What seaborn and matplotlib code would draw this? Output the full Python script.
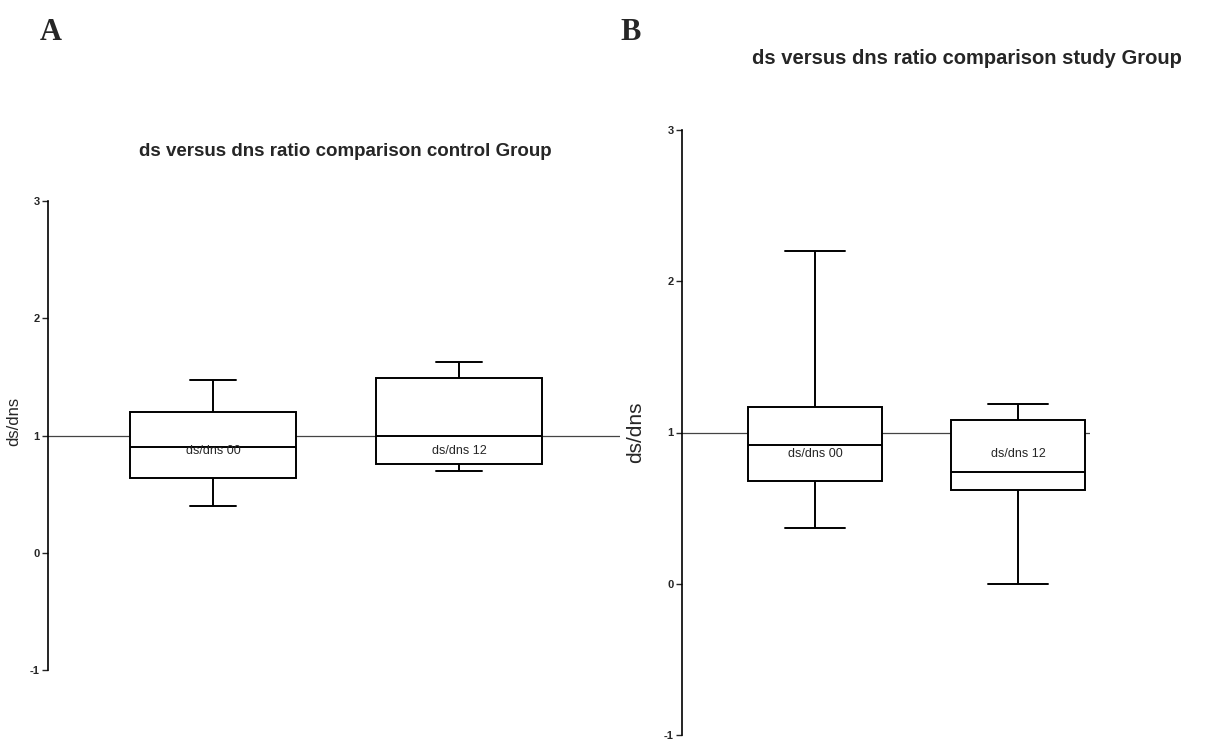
import matplotlib
matplotlib.use("Agg")
import matplotlib.pyplot as plt
import seaborn as sns
import pandas as pd
import numpy as np

# ---- data (five-number summaries: min, q1, median, q3, max)
groups = ["ds/dns 00", "ds/dns 12"]
control_00 = [0.40, 0.64, 0.90, 1.20, 1.47]
control_12 = [0.70, 0.76, 1.00, 1.49, 1.63]
study_00 = [0.37, 0.68, 0.92, 1.17, 2.20]
study_12 = [0.00, 0.62, 0.74, 1.08, 1.19]
yticks = [-1, 0, 1, 2, 3]
title_a = "ds versus dns ratio comparison control Group"
title_b = "ds versus dns ratio comparison study Group"
ylabel = "ds/dns"

sns.set_style("white")
plt.rcParams['font.family'] = ['Liberation Sans Narrow', 'Liberation Sans', 'DejaVu Sans']

W, H = 1208, 744
fig = plt.figure(figsize=(W / 100, H / 100), dpi=100)


def make_df(a, b):
    return pd.DataFrame({"group": [groups[0]] * len(a) + [groups[1]] * len(b),
                         "value": a + b})


def panel(rect_px, a, b, xlim, width, label_y, cap_ratio, label_dx, label_fy, label_fs):
    x0, x1, ytop, ybot = rect_px
    ax = fig.add_axes([x0 / W, 1 - ybot / H, (x1 - x0) / W, (ybot - ytop) / H])
    df = make_df(a, b)
    sns.boxplot(data=df, x="group", y="value", ax=ax, whis=(0, 100), width=width,
                color="white", linecolor="black", linewidth=1.4, fliersize=0)
    # shrink caps
    for ln in ax.lines:
        xd = np.asarray(ln.get_xdata(), dtype=float)
        yd = np.asarray(ln.get_ydata(), dtype=float)
        if len(xd) == 2 and yd[0] == yd[1]:
            L = abs(xd[1] - xd[0])
            if L < width * 0.9:
                c = (xd[0] + xd[1]) / 2
                half = width * cap_ratio / 2
                ln.set_xdata([c - half, c + half])
    ax.axhline(1, color="#444444", linewidth=0.9, zorder=0.5)
    for i, g in enumerate(groups):
        ax.text(i, label_y, g, ha="center", va="center", fontsize=9)
    ax.set_xlim(*xlim)
    ax.set_ylim(-1, 3)
    ax.set_yticks(yticks)
    ax.set_yticklabels([str(t) for t in yticks], fontsize=8, fontweight="bold")
    ax.tick_params(axis="y", which="both", left=True, length=4, width=1, pad=2)
    ax.set_xticks([])
    ax.set_xlabel("")
    ax.set_ylabel(ylabel, fontsize=label_fs)
    ax.yaxis.set_label_coords(-label_dx / (x1 - x0), label_fy)
    for s in ["top", "right", "bottom"]:
        ax.spines[s].set_visible(False)
    ax.spines["left"].set_linewidth(1.2)
    ax.spines["left"].set_color("black")
    return ax


axA = panel((48, 620, 201, 670), control_00, control_12, (-0.67, 1.654), 0.675, 0.87, 0.28,
            27, 0.53, 12)
axB = panel((682, 1090, 130, 735), study_00, study_12, (-0.655, 1.355), 0.66, 0.86, 0.45,
            37, 0.5, 15)

fig.text(345 / W, 1 - 152 / H, title_a, ha="center", va="center", fontsize=13.5, fontweight="bold")
fig.text(967 / W, 1 - 58 / H, title_b, ha="center", va="center", fontsize=14.5, fontweight="bold")
fig.text(40 / W, 1 - 32 / H, "A", ha="left", va="center", fontsize=22, fontweight="bold",
         family=["Liberation Serif", "DejaVu Serif"])
fig.text(620 / W, 1 - 32 / H, "B", ha="left", va="center", fontsize=22, fontweight="bold",
         family=["Liberation Serif", "DejaVu Serif"])

fig.savefig("out.png", dpi=100)
